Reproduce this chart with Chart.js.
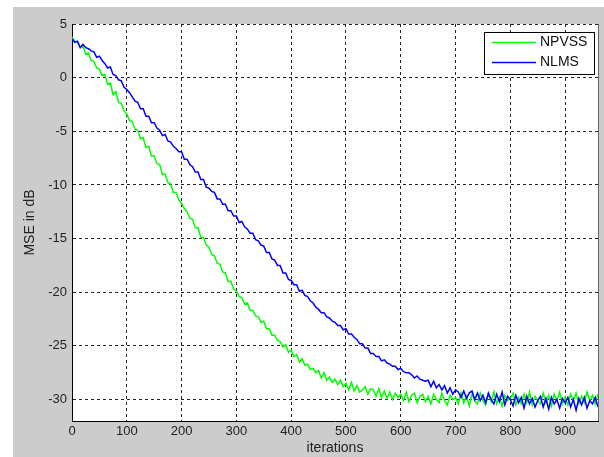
<!DOCTYPE html>
<html>
<head>
<meta charset="utf-8">
<script src="https://cdn.jsdelivr.net/npm/chart.js@4/dist/chart.umd.min.js"></script>
<style>
  html, body { margin: 0; padding: 0; background: #fff; }
  #wrap { width: 604px; height: 457px; }
</style>
</head>
<body>
<div id="wrap"><canvas id="mseChart" width="604" height="457"></canvas></div>
<script>
const npvssMSE = [
  3.8, 3.4, 3.3, 2.8, 2.9, 2.2, 2.3, 1.6, 1.5, 0.9,
  0.8, 0.2, 0.3, -0.6, -0.5, -1.6, -1.3, -2.3, -2.4, -3.1,
  -3.4, -4.0, -4.1, -4.8, -4.9, -5.7, -5.6, -6.5, -6.4, -7.3,
  -7.3, -8.0, -8.1, -9.0, -9.0, -9.8, -9.9, -10.7, -10.7, -11.4,
  -11.7, -12.2, -12.5, -13.1, -13.2, -14.0, -14.0, -14.9, -14.9, -15.6,
  -15.8, -16.5, -16.6, -17.3, -17.4, -18.1, -18.2, -19.0, -19.0, -19.7,
  -19.9, -20.4, -20.5, -21.1, -21.0, -21.7, -21.7, -22.2, -22.3, -22.8,
  -22.7, -23.4, -23.4, -24.0, -24.0, -24.5, -24.6, -25.1, -24.9, -25.6,
  -25.4, -26.0, -25.8, -26.5, -26.2, -26.8, -26.7, -27.2, -27.1, -27.5,
  -27.3, -28.0, -27.5, -28.2, -27.9, -28.4, -28.1, -28.6, -28.2, -28.8,
  -28.5, -29.1, -28.4, -29.2, -28.7, -29.3, -29.1, -28.8, -29.5, -29.0,
  -29.1, -29.7, -29.0, -29.8, -29.2, -29.9, -29.3, -30.0, -29.4, -29.8,
  -29.5, -30.1, -29.3, -30.2, -29.6, -29.4, -30.3, -29.7, -29.5, -30.2,
  -29.7, -30.4, -29.5, -30.0, -30.3, -29.4, -30.1, -30.5, -29.6, -30.0,
  -29.8, -30.4, -29.4, -30.3, -29.7, -30.6, -29.5, -30.1, -30.4, -29.4,
  -30.1, -30.5, -29.5, -30.2, -29.3, -30.4, -29.8, -30.6, -29.6, -30.1,
  -29.9, -29.4, -30.5, -29.8, -30.4, -29.5, -30.3, -29.3, -30.5, -29.7,
  -30.1, -30.4, -29.4, -30.3, -29.6, -30.6, -29.5, -30.1, -29.3, -30.4,
  -29.8, -30.5, -29.5, -30.1, -29.4, -30.4, -29.7, -30.3, -29.3, -30.1,
  -29.6, -30.4, -29.5
];

const nlmsMSE = [
  3.6, 3.3, 3.4, 2.8, 3.1, 2.8, 2.7, 2.5, 2.4, 1.9,
  2.0, 1.6, 1.3, 0.9, 1.0, 0.3, 0.2, -0.2, -0.3, -0.9,
  -1.1, -1.4, -1.8, -2.2, -2.3, -2.9, -2.9, -3.6, -3.6, -4.2,
  -4.2, -4.7, -4.9, -5.4, -5.3, -5.9, -6.0, -6.4, -6.6, -6.9,
  -6.9, -7.6, -7.6, -8.1, -8.3, -8.8, -8.8, -9.5, -9.5, -10.2,
  -10.3, -10.6, -10.7, -11.3, -11.3, -11.8, -11.8, -12.4, -12.4, -12.9,
  -12.9, -13.5, -13.4, -13.9, -14.1, -14.5, -14.5, -15.1, -15.2, -15.6,
  -15.7, -16.3, -16.3, -16.9, -17.0, -17.5, -17.5, -18.2, -18.2, -18.8,
  -18.9, -19.3, -19.3, -19.9, -19.8, -20.3, -20.4, -20.8, -21.0, -21.4,
  -21.6, -21.9, -21.9, -22.3, -22.4, -22.7, -22.8, -23.1, -23.1, -23.5,
  -23.4, -23.9, -23.9, -24.2, -24.4, -24.8, -24.8, -25.2, -25.2, -25.7,
  -25.7, -26.0, -26.0, -26.4, -26.3, -26.6, -26.7, -26.9, -26.9, -27.2,
  -27.1, -27.4, -27.5, -27.5, -27.7, -28.0, -27.8, -28.1, -28.2, -28.3,
  -28.2, -28.8, -28.3, -28.9, -28.6, -29.1, -28.7, -29.4, -28.9, -29.5,
  -29.1, -29.3, -29.8, -29.2, -29.9, -29.4, -29.2, -30.0, -29.4, -30.1,
  -29.6, -30.3, -29.4, -30.0, -30.4, -29.5, -30.2, -29.3, -30.5, -29.7,
  -30.0, -30.6, -29.6, -30.3, -29.8, -30.8, -29.7, -30.4, -29.9, -30.7,
  -30.1, -29.7, -30.7, -29.9, -30.9, -29.8, -30.4, -30.0, -30.8, -29.9,
  -30.3, -29.8, -30.7, -30.0, -31.0, -29.9, -30.5, -29.8, -30.8, -30.1,
  -30.4, -29.8, -30.7
];

// iteration index of each sample
const iterations = npvssMSE.map((_, i) => i * 5);

const seriesNames = ['NPVSS', 'NLMS'];
const xTicks = [0, 100, 200, 300, 400, 500, 600, 700, 800, 900];
const yTicks = [-30, -25, -20, -15, -10, -5, 0, 5];

const FONT = 'Liberation Sans, Arial, sans-serif';

// gray figure background + white axes area, matlab style
const figureBg = {
  id: 'figureBg',
  beforeDraw(chart) {
    const { ctx, chartArea: a, width, height } = chart;
    ctx.save();
    ctx.fillStyle = '#cccccc';
    ctx.fillRect(13, 7, width - 13, height - 7);
    ctx.fillStyle = '#ffffff';
    ctx.fillRect(a.left, a.top, a.right - a.left, a.bottom - a.top);
    ctx.restore();
  },
  afterDraw(chart) {
    const { ctx, chartArea: a } = chart;
    ctx.save();
    // right edge of the axes box
    ctx.strokeStyle = '#666';
    ctx.lineWidth = 1;
    ctx.beginPath();
    ctx.moveTo(a.right + 0.5, a.top);
    ctx.lineTo(a.right + 0.5, a.bottom);
    ctx.stroke();

    // boxed legend in the upper right corner
    const bx = 484.5, by = 32.5, bw = 110, bh = 42;
    ctx.fillStyle = '#fff';
    ctx.fillRect(bx, by, bw, bh);
    ctx.strokeStyle = '#000';
    ctx.strokeRect(bx, by, bw, bh);
    ctx.font = '14px ' + FONT;
    ctx.textBaseline = 'middle';
    ctx.textAlign = 'left';
    chart.data.datasets.forEach((ds, i) => {
      const y = 42.5 + i * 20;
      ctx.strokeStyle = ds.borderColor;
      ctx.lineWidth = 1.4;
      ctx.beginPath();
      ctx.moveTo(492, y);
      ctx.lineTo(536, y);
      ctx.stroke();
      ctx.fillStyle = '#111';
      ctx.fillText(ds.label, 540, y);
    });
    ctx.restore();
  }
};

const ctx = document.getElementById('mseChart').getContext('2d');
const mseChart = new Chart(ctx, {
  type: 'line',
  data: {
    labels: iterations,
    datasets: [
      {
        label: seriesNames[0],
        data: npvssMSE,
        borderColor: '#00ff00',
        borderWidth: 1.5,
        pointRadius: 0,
        tension: 0,
        order: 1
      },
      {
        label: seriesNames[1],
        data: nlmsMSE,
        borderColor: '#0000ff',
        borderWidth: 1.5,
        pointRadius: 0,
        tension: 0,
        order: 0
      }
    ]
  },
  options: {
    responsive: false,
    animation: false,
    devicePixelRatio: 1,
    layout: { padding: { top: 24, right: 6, left: 0, bottom: 0 } },
    plugins: {
      legend: { display: false },
      tooltip: { enabled: false }
    },
    scales: {
      x: {
        type: 'linear',
        min: 0,
        max: 960,
        afterBuildTicks: scale => {
          scale.ticks = xTicks.map(v => ({ value: v }));
        },
        afterFit: scale => { scale.height = 36; },
        grid: {
          color: '#222',
          lineWidth: 1,
          drawTicks: false
        },
        border: { color: '#000', width: 1, dash: [3, 3] },
        ticks: {
          padding: 3,
          color: '#222',
          font: { family: FONT, size: 13 },
          maxRotation: 0
        },
        title: {
          display: true,
          text: 'iterations',
          color: '#222',
          font: { family: FONT, size: 14 },
          padding: { top: 0, bottom: 0 }
        }
      },
      y: {
        min: -32,
        max: 5,
        afterBuildTicks: scale => {
          scale.ticks = yTicks.map(v => ({ value: v }));
        },
        afterFit: scale => { scale.width = 72; },
        grid: {
          color: '#222',
          lineWidth: 1,
          drawTicks: false
        },
        border: { color: '#000', width: 1, dash: [3, 3] },
        ticks: {
          padding: 5,
          color: '#222',
          font: { family: FONT, size: 13 }
        },
        title: {
          display: true,
          text: 'MSE in dB',
          color: '#222',
          font: { family: FONT, size: 14 },
          padding: { top: 22, bottom: 0 }
        }
      }
    }
  },
  plugins: [figureBg]
});
</script>
</body>
</html>
